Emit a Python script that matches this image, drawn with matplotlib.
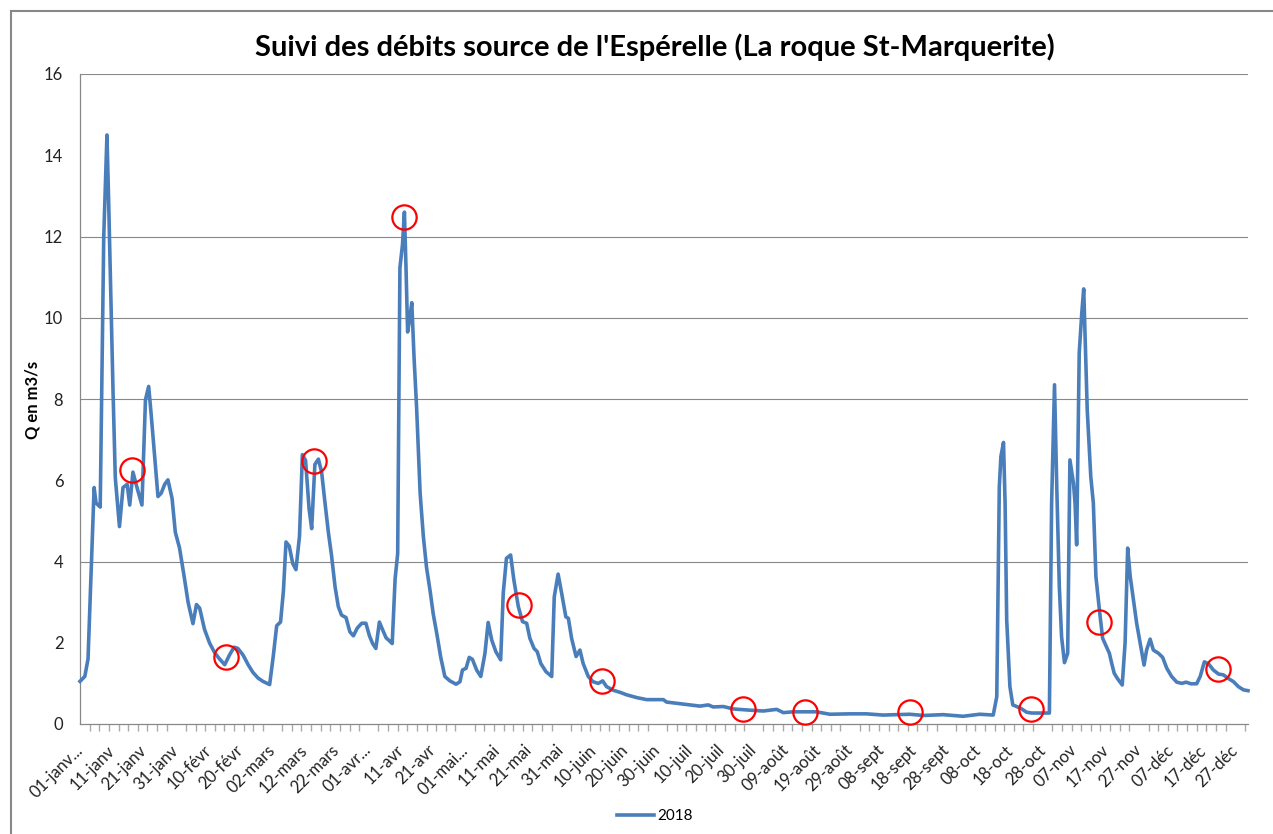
import matplotlib
matplotlib.use("Agg")
import matplotlib.pyplot as plt
import numpy as np
from matplotlib.lines import Line2D

plt.rcParams["font.family"] = ["Lato", "DejaVu Sans"]

# flow readings, day offset from 01-janv-2018 and Q in m3/s
days = [
    0, 1.5, 2.5, 4.4, 5, 6.3, 7.4, 8.4, 8.9, 9.5, 10.3, 11, 12.3, 13.4, 14.7,
    15.5, 16.5, 17.9, 19.3, 20.4, 21.4, 22.2, 23.5, 24.3, 25.3, 26.4, 27.4,
    28.7, 29.7, 31, 32.4, 33.7, 35.2, 36.3, 37.3, 38.8, 40.4, 42, 43.5, 45.1,
    46.6, 48, 49.2, 50.8, 52.4, 53.9, 55.5, 57, 59.1,
    60.2, 61.3, 62.5, 63.4, 64.2, 65.2, 66.3, 67.3, 68.4, 69.3, 70.3, 71.4,
    72.2, 73.2, 74.3, 75.3, 76.3, 77.4, 78.4, 79.5, 80.5, 81.5, 82.9, 84.1,
    85.2, 86.4, 87.8, 89.1, 90.2, 91.2, 92.2, 93.3, 94.3, 95.4, 96.4, 97.3,
    98.2, 99, 99.7, 100.5, 101.1, 101.6, 102.1, 102.8, 103.4, 104.1, 104.9,
    106, 107, 108, 109.1, 110.1, 111.2, 112.4, 113.7, 115.3, 117.2,
    118.4, 119.2, 120.3, 121.3, 122.3, 123.6, 124.9, 126.2, 127.2, 128.3,
    129.6, 131.1, 131.9, 132.9, 134.2, 135.2, 136.6, 137.9, 139.2, 140.2,
    141.5, 142.5, 143.6, 145.2, 147, 147.8, 149, 150.1, 151.4, 152.2, 153.2,
    154.6, 155.8, 156.8, 158.4, 159.9, 161.5, 162.9, 164.1, 166.2, 168.3,
    170.3, 173.5, 176.6,
    181.8, 182.8, 188, 193.2, 195.8, 197.3, 200.5, 203.6, 208.8, 212.9,
    217.1, 219.2, 222.3, 229.5, 233.7, 240, 245.1, 250.3, 258.6, 262.8, 269,
    275.2, 280.4, 284.6,
    285.7, 286.5, 287, 287.8, 288.3, 288.8, 289.8, 290.7, 291.9, 293.5, 295,
    296.6, 302.1, 302.8, 303.7, 304.4, 305.2, 305.9, 306.8, 307.8, 308.5,
    309.6, 310.1, 310.6, 311.4, 312.2, 312.8, 313.4, 313.9, 315, 315.8,
    316.6, 317.7, 318.7, 320, 320.8, 321.5, 322.3, 323.3, 324.8, 325.7,
    326.5, 327.3, 328.3, 329.3, 330.4, 331.6, 332.4, 333.5, 334.5, 336.1,
    337.4, 338.7, 340.2, 341.8, 343.4, 344.7, 346.2, 348, 349.1, 350.4,
    351.7, 353.2, 354.8, 356.3, 357.9, 359.5, 361, 362.6, 364,
]
flow = [
    1.05, 1.17, 1.6, 5.82, 5.44, 5.34, 12.0, 14.5, 12.96, 10.95, 8.17, 6.06,
    4.86, 5.82, 5.9, 5.39, 6.2, 5.78, 5.39, 7.98, 8.31, 7.6, 6.35, 5.6, 5.68,
    5.9, 6.01, 5.55, 4.72, 4.34, 3.66, 2.99, 2.47, 2.94, 2.85, 2.33, 1.99,
    1.75, 1.6, 1.46, 1.7, 1.89, 1.86, 1.7, 1.46, 1.27, 1.13, 1.05, 0.97,
    1.65, 2.42, 2.51, 3.28, 4.48, 4.38, 3.95, 3.8, 4.62, 6.63, 6.49, 5.29,
    4.81, 6.39, 6.52, 6.2, 5.48, 4.72, 4.14, 3.37, 2.89, 2.68, 2.62, 2.27,
    2.17, 2.36, 2.48, 2.48, 2.17, 1.98, 1.86, 2.51, 2.32, 2.12, 2.05, 1.98,
    3.57, 4.19, 11.23, 11.8, 12.6, 11.23, 9.65, 10.0, 10.37, 9.03, 7.79,
    5.68, 4.62, 3.85, 3.28, 2.7, 2.22, 1.65, 1.17, 1.06, 0.98,
    1.04, 1.33, 1.37, 1.64, 1.59, 1.33, 1.17, 1.74, 2.5, 2.07, 1.78, 1.58,
    3.22, 4.08, 4.16, 3.55, 2.89, 2.52, 2.48, 2.11, 1.86, 1.78, 1.49, 1.29,
    1.17, 3.13, 3.69, 3.22, 2.64, 2.6, 2.11, 1.66, 1.82, 1.49, 1.17, 1.04,
    1.0, 1.06, 0.92, 0.83, 0.78, 0.72, 0.65, 0.6,
    0.6, 0.54, 0.49, 0.44, 0.47, 0.42, 0.43, 0.37, 0.34, 0.32, 0.36, 0.28,
    0.30, 0.30, 0.24, 0.25, 0.25, 0.22, 0.24, 0.21, 0.23, 0.19, 0.24, 0.22,
    0.67, 5.85, 6.59, 6.93, 5.44, 2.56, 0.92, 0.47, 0.43, 0.37, 0.29, 0.27,
    0.27, 5.44, 8.35, 5.85, 3.38, 2.15, 1.51, 1.74, 6.5, 5.93, 5.44, 4.41,
    9.13, 10.12, 10.71, 9.13, 7.73, 6.09, 5.44, 3.63, 2.8, 2.11, 1.88, 1.74,
    1.5, 1.25, 1.12, 0.96, 2.0, 4.33, 3.63, 3.05, 2.48, 1.99, 1.45, 1.82,
    2.09, 1.82, 1.74, 1.64, 1.37, 1.17, 1.03, 1.0, 1.03, 0.99, 0.99, 1.17,
    1.53, 1.48, 1.33, 1.23, 1.21, 1.12, 1.04, 0.92, 0.84, 0.82,
]

# red circles drawn on the chart
circle_days = [16.1, 45.4, 73.0, 101.1, 136.8, 162.8, 206.5, 225.9, 258.8, 296.4, 317.6, 354.5]
circle_q = [6.25, 1.64, 6.47, 12.47, 2.93, 1.07, 0.37, 0.29, 0.30, 0.37, 2.50, 1.35]

label_days = list(range(0, 361, 10))
date_labels = [
    "01-janv...", "11-janv", "21-janv", "31-janv", "10-févr", "20-févr",
    "02-mars", "12-mars", "22-mars", "01-avr...", "11-avr", "21-avr",
    "01-mai...", "11-mai", "21-mai", "31-mai", "10-juin", "20-juin",
    "30-juin", "10-juil", "20-juil", "30-juil", "09-août", "19-août",
    "29-août", "08-sept", "18-sept", "28-sept", "08-oct", "18-oct",
    "28-oct", "07-nov", "17-nov", "27-nov", "07-déc", "17-déc", "27-déc",
]
y_ticks = [0, 2, 4, 6, 8, 10, 12, 14, 16]
grid_levels = [4, 8, 10, 12, 16]

W, H = 1273, 834
LINE_BLUE = "#4A7EBB"
GRAY = "#888888"

fig = plt.figure(figsize=(W / 100, H / 100), dpi=100)
ax = fig.add_axes([80 / W, 1 - 724 / H, (1248 - 80) / W, (724 - 74) / H])

for level in grid_levels:
    ax.axhline(level, color=GRAY, lw=0.8, zorder=0)

ax.plot(days, flow, color=LINE_BLUE, lw=2.6, solid_joinstyle="round",
        label="2018", clip_on=False, zorder=3)
ax.plot(circle_days, circle_q, "o", ms=17.5, mfc="none", mec="red", mew=1.6,
        clip_on=False, zorder=4)

ax.set_xlim(0, 364)
ax.set_ylim(0, 16)
ax.set_xticks(label_days)
ax.set_xticklabels(date_labels, rotation=45, ha="right", va="center",
                   rotation_mode="anchor", fontsize=12, color="#222222")
ax.set_xticks(np.arange(0, 365, 3), minor=True)
ax.tick_params(axis="x", which="major", length=0, pad=17)
ax.tick_params(axis="x", which="minor", length=5, width=1, color="#aaaaaa")
ax.set_yticks(y_ticks)
ax.set_yticklabels([str(v) for v in y_ticks], fontsize=12, color="#222222")
ax.tick_params(axis="y", length=0, pad=12)

for side in ("top", "right"):
    ax.spines[side].set_visible(False)
for side in ("left", "bottom"):
    ax.spines[side].set_color(GRAY)
    ax.spines[side].set_linewidth(0.9)

fig.text(32 / W, 1 - 400 / H, "Q en m3/s", rotation=90, ha="center", va="center",
         fontsize=12, fontweight="bold")
fig.text(655 / W, 1 - 47 / H,
         "Suivi des débits source de l'Espérelle (La roque St-Marquerite)",
         ha="center", va="center", fontsize=21, fontweight="bold")

handle = Line2D([], [], color=LINE_BLUE, lw=2.6)
fig.legend([handle], ["2018"], loc="center", bbox_to_anchor=(655 / W, 1 - 816 / H),
           frameon=False, fontsize=11, handlelength=2.4, handletextpad=0.2)

# outer chart frame, only left and top edges are visible
fig.add_artist(Line2D([11 / W, 11 / W], [0, 1 - 11 / H], color=GRAY, lw=1.5))
fig.add_artist(Line2D([11 / W, 1], [1 - 11 / H, 1 - 11 / H], color=GRAY, lw=1.5))

fig.savefig("out.png", dpi=100)
